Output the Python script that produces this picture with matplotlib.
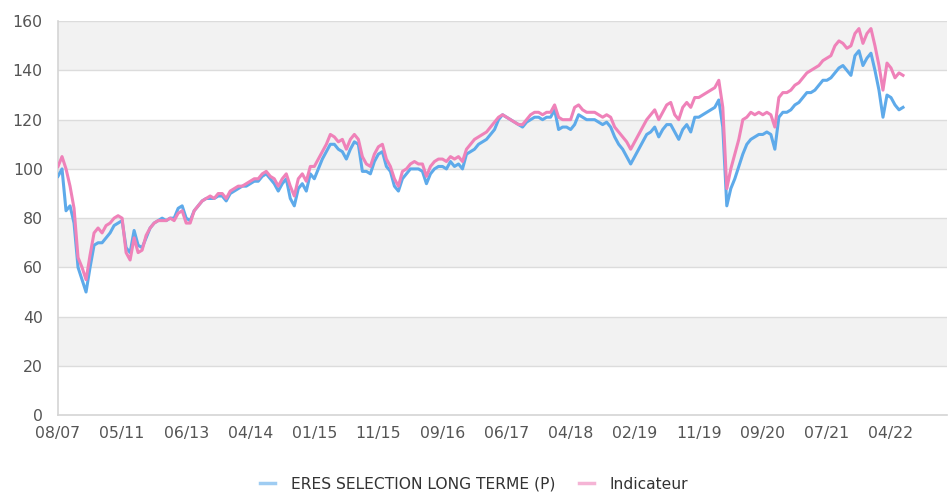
import matplotlib

matplotlib.use("Agg")
import matplotlib.pyplot as plt
import numpy as np

# one value every ~4 px of the original chart, 16 samples between two date labels
fund = [
    97, 100, 83, 85, 78, 60, 55, 50, 60, 69, 70, 70, 72, 74, 77, 78,
    79, 68, 66, 75, 69, 68, 72, 76, 78, 79, 80, 79, 80, 80, 84, 85,
    80, 79, 83, 85, 87, 88, 88, 88, 89, 89, 87, 90, 91, 92, 93, 93,
    94, 95, 95, 97, 98, 96, 94, 91, 94, 96, 88, 85, 92, 94, 91, 98,
    96, 100, 104, 107, 110, 110, 108, 107, 104, 108, 111, 110, 99, 99, 98, 103,
    106, 107, 101, 99, 93, 91, 96, 98, 100, 100, 100, 99, 94, 98, 100, 101,
    101, 100, 103, 101, 102, 100, 106, 107, 108, 110, 111, 112, 114, 116, 120, 122,
    121, 120, 119, 118, 117, 119, 120, 121, 121, 120, 121, 121, 124, 116, 117, 117,
    116, 118, 122, 121, 120, 120, 120, 119, 118, 119, 117, 113, 110, 108, 105, 102,
    105, 108, 111, 114, 115, 117, 113, 116, 118, 118, 115, 112, 116, 118, 115, 121,
    121, 122, 123, 124, 125, 128, 117, 85, 92, 96, 101, 106, 110, 112, 113, 114,
    114, 115, 114, 108, 121, 123, 123, 124, 126, 127, 129, 131, 131, 132, 134, 136,
    136, 137, 139, 141, 142, 140, 138, 146, 148, 142, 145, 147, 140, 132, 121, 130,
    129, 126, 124, 125,
]
indicateur = [
    101, 105, 100, 93, 84, 64, 60, 55, 65, 74, 76, 74, 77, 78, 80, 81,
    80, 66, 63, 72, 66, 67, 73, 76, 78, 79, 79, 79, 80, 79, 82, 83,
    78, 78, 83, 85, 87, 88, 89, 88, 90, 90, 88, 91, 92, 93, 93, 94,
    95, 96, 96, 98, 99, 97, 96, 93, 96, 98, 93, 89, 96, 98, 95, 101,
    101, 104, 107, 110, 114, 113, 111, 112, 108, 112, 114, 112, 105, 102, 101, 106,
    109, 110, 104, 101, 96, 93, 99, 100, 102, 103, 102, 102, 97, 101, 103, 104,
    104, 103, 105, 104, 105, 103, 108, 110, 112, 113, 114, 115, 117, 119, 121, 122,
    121, 120, 119, 118, 118, 120, 122, 123, 123, 122, 123, 123, 126, 121, 120, 120,
    120, 125, 126, 124, 123, 123, 123, 122, 121, 122, 121, 117, 115, 113, 111, 108,
    111, 114, 117, 120, 122, 124, 120, 123, 126, 127, 122, 120, 125, 127, 125, 129,
    129, 130, 131, 132, 133, 136, 125, 92, 100, 106, 112, 120, 121, 123, 122, 123,
    122, 123, 122, 117, 129, 131, 131, 132, 134, 135, 137, 139, 140, 141, 142, 144,
    145, 146, 150, 152, 151, 149, 150, 155, 157, 151, 155, 157, 150, 142, 132, 143,
    141, 137, 139, 138,
]
date_labels = ["08/07", "05/11", "06/13", "04/14", "01/15", "11/15", "09/16",
               "06/17", "04/18", "02/19", "11/19", "09/20", "07/21", "04/22"]
series_names = ["ERES SELECTION LONG TERME (P)", "Indicateur"]

STEP = 16  # samples between two date labels
BLUE = "#5eaaea"
PINK = "#ef82b9"
TEXT = "#555555"

fig = plt.figure(figsize=(9.48, 4.93), dpi=100)
ax = fig.add_axes([0.0612, 0.158, 0.9378, 0.799])

# alternating grey bands + light grid
for lo in range(20, 160, 40):
    ax.axhspan(lo, lo + 20, color="#f2f2f2", lw=0, zorder=0)
for y in range(20, 161, 20):
    ax.axhline(y, color="#dcdcdc", lw=1.0, zorder=1)

x = np.arange(len(fund))
ax.plot(x, fund, color=BLUE, lw=2.2, label=series_names[0], zorder=3)
ax.plot(x, indicateur, color=PINK, lw=2.2, label=series_names[1], zorder=4)

ax.set_xlim(0, 222)
ax.set_ylim(0, 160)
ax.set_yticks(range(0, 161, 20))
ax.set_xticks(np.arange(len(date_labels)) * STEP)
ax.set_xticklabels(date_labels)
ax.tick_params(length=0, labelsize=11.3, labelcolor=TEXT)
ax.tick_params(axis="y", pad=11)
ax.tick_params(axis="x", pad=8)

for side in ("top", "right"):
    ax.spines[side].set_visible(False)
for side in ("left", "bottom"):
    ax.spines[side].set_color("#d4d4d4")
    ax.spines[side].set_linewidth(1.2)

leg = fig.legend(loc="lower center", bbox_to_anchor=(0.5, -0.026), ncol=2,
                 frameon=False, fontsize=11.2, handlelength=1.0,
                 columnspacing=1.5, handletextpad=1.0)
for line in leg.get_lines():
    line.set_alpha(0.6)
    line.set_linewidth(2.5)
for t in leg.get_texts():
    t.set_color("#333333")

fig.savefig("out.png", dpi=100)
